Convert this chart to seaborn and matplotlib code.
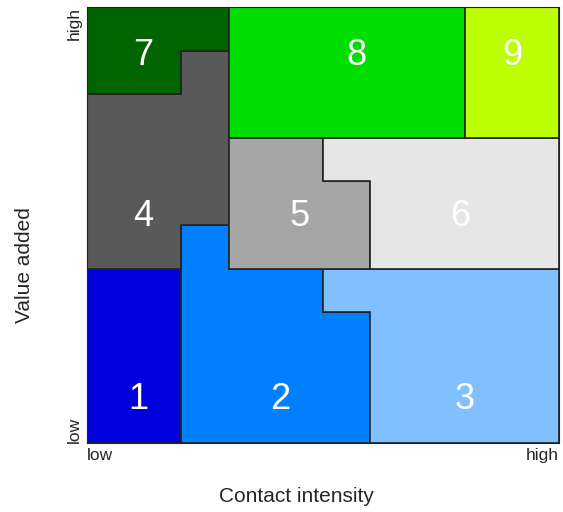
import matplotlib
matplotlib.use("Agg")
import matplotlib.pyplot as plt
from matplotlib.patches import Polygon
import seaborn as sns

# -------------------------------
# Data: regions on the contact intensity / value added grid
# -------------------------------
region_ids = ["1", "2", "3", "4", "5", "6", "7", "8", "9"]

region_x = [
    [0.0, 0.2, 0.2, 0.0],
    [0.2, 0.6, 0.6, 0.5, 0.5, 0.3, 0.3, 0.2],
    [0.6, 1.0, 1.0, 0.5, 0.5, 0.6],
    [0.0, 0.2, 0.2, 0.3, 0.3, 0.2, 0.2, 0.0],
    [0.3, 0.6, 0.6, 0.5, 0.5, 0.3],
    [0.6, 1.0, 1.0, 0.5, 0.5, 0.6],
    [0.0, 0.2, 0.2, 0.3, 0.3, 0.0],
    [0.3, 0.8, 0.8, 0.3],
    [0.8, 1.0, 1.0, 0.8],
]
region_y = [
    [0.0, 0.0, 0.4, 0.4],
    [0.0, 0.0, 0.3, 0.3, 0.4, 0.4, 0.5, 0.5],
    [0.0, 0.0, 0.4, 0.4, 0.3, 0.3],
    [0.4, 0.4, 0.5, 0.5, 0.9, 0.9, 0.8, 0.8],
    [0.4, 0.4, 0.6, 0.6, 0.7, 0.7],
    [0.4, 0.4, 0.7, 0.7, 0.6, 0.6],
    [0.8, 0.8, 0.9, 0.9, 1.0, 1.0],
    [0.7, 0.7, 1.0, 1.0],
    [0.7, 0.7, 1.0, 1.0],
]
label_x = [0.108, 0.41, 0.80, 0.12, 0.45, 0.79, 0.12, 0.57, 0.90]
label_y = [0.10, 0.10, 0.10, 0.52, 0.52, 0.52, 0.89, 0.89, 0.89]

colors = ["#0000dd", "#0080ff", "#80c0ff",
          "#595959", "#a6a6a6", "#e6e6e6",
          "#006400", "#00dd00", "#bbff00"]

tick_labels = ["low", "high"]

# -------------------------------
# Plot
# -------------------------------
sns.set_style("white")
plt.rcParams['font.family'] = ['Liberation Sans', 'DejaVu Sans']

fig = plt.figure(figsize=(5.63, 5.12), dpi=100)
ax = fig.add_axes([0.1545, 0.135, 0.8385, 0.851])

for xs, ys, c, lab, lx, ly in zip(region_x, region_y, colors, region_ids, label_x, label_y):
    ax.add_patch(Polygon(list(zip(xs, ys)), closed=True, facecolor=c,
                         edgecolor="#222222", linewidth=1.2))
    ax.text(lx, ly, lab, color="white", fontsize=26, ha="center", va="center")

ax.set_xlim(0, 1)
ax.set_ylim(0, 1)
ax.set_xticks([0, 1])
ax.set_xticklabels(tick_labels, fontsize=12.5)
ax.set_yticks([0, 1])
ax.set_yticklabels(tick_labels, fontsize=12.5, rotation=90)
ax.tick_params(length=0, pad=4)
for t, ha in zip(ax.get_xticklabels(), ["left", "right"]):
    t.set_ha(ha)
for t, va in zip(ax.get_yticklabels(), ["bottom", "top"]):
    t.set_va(va)
for s in ax.spines.values():
    s.set_color("#222222")

fig.text(0.526, 0.031, "Contact intensity", fontsize=15, ha="center", va="center")
fig.text(0.044, 0.482, "Value added", fontsize=15, ha="center", va="center", rotation=90)

fig.savefig("out.png", dpi=100)
